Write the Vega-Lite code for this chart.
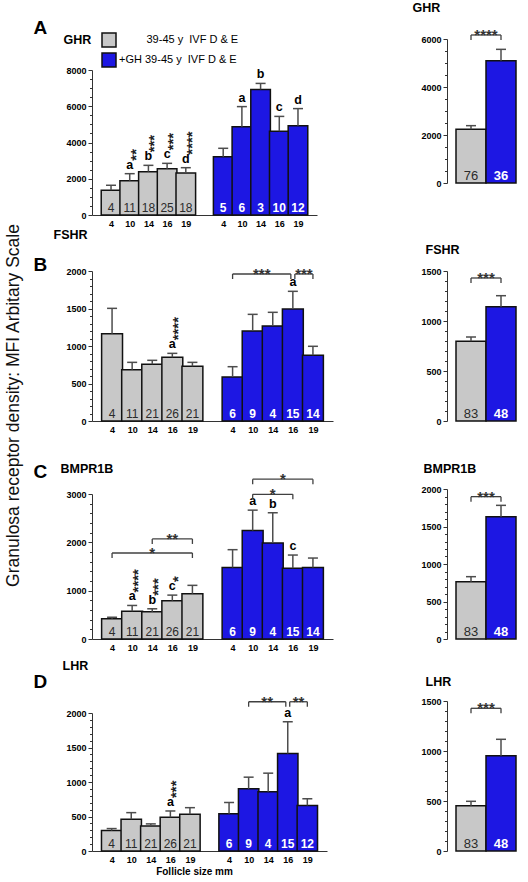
{
  "$schema": "https://vega.github.io/schema/vega-lite/v6.json",
  "padding": {"left": 4, "top": 1, "right": 0, "bottom": 0},
  "title": {"text": "Granulosa receptor density: MFI Arbitary Scale", "orient": "left", "anchor": "middle", "frame": "bounds", "fontSize": 17.5, "fontWeight": "normal", "color": "#111", "offset": 11, "dx": 33},
  "datasets": {
    "bars": [
      {"p": "A", "g": "-GH", "pos": 0, "m": 1360, "hi": 1640, "n": 4, "let": "", "st": ""},
      {"p": "A", "g": "-GH", "pos": 1, "m": 1890, "hi": 2280, "n": 11, "let": "a", "st": "**"},
      {"p": "A", "g": "-GH", "pos": 2, "m": 2390, "hi": 2740, "n": 18, "let": "b", "st": "***"},
      {"p": "A", "g": "-GH", "pos": 3, "m": 2555, "hi": 2850, "n": 25, "let": "c", "st": "***"},
      {"p": "A", "g": "-GH", "pos": 4, "m": 2320, "hi": 2610, "n": 18, "let": "d", "st": "****"},
      {"p": "A", "g": "+GH", "pos": 6, "m": 3220, "hi": 3680, "n": 5, "let": "", "st": ""},
      {"p": "A", "g": "+GH", "pos": 7, "m": 4870, "hi": 5980, "n": 6, "let": "a", "st": ""},
      {"p": "A", "g": "+GH", "pos": 8, "m": 6930, "hi": 7260, "n": 3, "let": "b", "st": ""},
      {"p": "A", "g": "+GH", "pos": 9, "m": 4620, "hi": 5440, "n": 10, "let": "c", "st": ""},
      {"p": "A", "g": "+GH", "pos": 10, "m": 4930, "hi": 5870, "n": 12, "let": "d", "st": ""},
      {"p": "B", "g": "-GH", "pos": 0, "m": 1164, "hi": 1502, "n": 4, "let": "", "st": ""},
      {"p": "B", "g": "-GH", "pos": 1, "m": 684, "hi": 782, "n": 11, "let": "", "st": ""},
      {"p": "B", "g": "-GH", "pos": 2, "m": 756, "hi": 809, "n": 21, "let": "", "st": ""},
      {"p": "B", "g": "-GH", "pos": 3, "m": 849, "hi": 902, "n": 26, "let": "a", "st": "****"},
      {"p": "B", "g": "-GH", "pos": 4, "m": 729, "hi": 782, "n": 21, "let": "", "st": ""},
      {"p": "B", "g": "+GH", "pos": 6, "m": 587, "hi": 724, "n": 6, "let": "", "st": ""},
      {"p": "B", "g": "+GH", "pos": 7, "m": 1200, "hi": 1422, "n": 9, "let": "", "st": ""},
      {"p": "B", "g": "+GH", "pos": 8, "m": 1267, "hi": 1449, "n": 4, "let": "", "st": ""},
      {"p": "B", "g": "+GH", "pos": 9, "m": 1493, "hi": 1729, "n": 15, "let": "a", "st": ""},
      {"p": "B", "g": "+GH", "pos": 10, "m": 876, "hi": 996, "n": 14, "let": "", "st": ""},
      {"p": "C", "g": "-GH", "pos": 0, "m": 417, "hi": 450, "n": 4, "let": "", "st": ""},
      {"p": "C", "g": "-GH", "pos": 1, "m": 575, "hi": 694, "n": 11, "let": "a", "st": "****"},
      {"p": "C", "g": "-GH", "pos": 2, "m": 562, "hi": 625, "n": 21, "let": "b", "st": "***"},
      {"p": "C", "g": "-GH", "pos": 3, "m": 792, "hi": 908, "n": 26, "let": "c", "st": "*"},
      {"p": "C", "g": "-GH", "pos": 4, "m": 937, "hi": 1110, "n": 21, "let": "", "st": ""},
      {"p": "C", "g": "+GH", "pos": 6, "m": 1479, "hi": 1848, "n": 6, "let": "", "st": ""},
      {"p": "C", "g": "+GH", "pos": 7, "m": 2243, "hi": 2666, "n": 9, "let": "a", "st": ""},
      {"p": "C", "g": "+GH", "pos": 8, "m": 1987, "hi": 2612, "n": 4, "let": "b", "st": ""},
      {"p": "C", "g": "+GH", "pos": 9, "m": 1466, "hi": 1737, "n": 15, "let": "c", "st": ""},
      {"p": "C", "g": "+GH", "pos": 10, "m": 1479, "hi": 1675, "n": 14, "let": "", "st": ""},
      {"p": "D", "g": "-GH", "pos": 0, "m": 296, "hi": 325, "n": 4, "let": "", "st": ""},
      {"p": "D", "g": "-GH", "pos": 1, "m": 459, "hi": 556, "n": 11, "let": "", "st": ""},
      {"p": "D", "g": "-GH", "pos": 2, "m": 364, "hi": 393, "n": 21, "let": "", "st": ""},
      {"p": "D", "g": "-GH", "pos": 3, "m": 488, "hi": 580, "n": 26, "let": "a", "st": "***"},
      {"p": "D", "g": "-GH", "pos": 4, "m": 531, "hi": 628, "n": 21, "let": "", "st": ""},
      {"p": "D", "g": "+GH", "pos": 6, "m": 539, "hi": 703, "n": 6, "let": "", "st": ""},
      {"p": "D", "g": "+GH", "pos": 7, "m": 902, "hi": 1070, "n": 9, "let": "", "st": ""},
      {"p": "D", "g": "+GH", "pos": 8, "m": 858, "hi": 1128, "n": 4, "let": "", "st": ""},
      {"p": "D", "g": "+GH", "pos": 9, "m": 1414, "hi": 1873, "n": 15, "let": "a", "st": ""},
      {"p": "D", "g": "+GH", "pos": 10, "m": 660, "hi": 757, "n": 12, "let": "", "st": ""}
    ],
    "br": [
      {"id": "B1", "p": "B", "x1": 6, "x2": 8.9, "y": 1960, "t": "***"},
      {"id": "B2", "p": "B", "x1": 9.1, "x2": 10, "y": 1960, "t": "***"},
      {"id": "C1", "p": "C", "x1": 7, "x2": 10, "y": 3306, "t": "*"},
      {"id": "C2", "p": "C", "x1": 7, "x2": 9, "y": 2993, "t": "*"},
      {"id": "C3", "p": "C", "x1": 2, "x2": 4, "y": 2070, "t": "**"},
      {"id": "C4", "p": "C", "x1": 0, "x2": 4, "y": 1779, "t": "*"},
      {"id": "D1", "p": "D", "x1": 7, "x2": 8.9, "y": 2163, "t": "**"},
      {"id": "D2", "p": "D", "x1": 9.1, "x2": 10, "y": 2163, "t": "**"}
    ],
    "tr": [
      {"p": "A", "t": "-GH", "m": 2236, "hi": 2389, "n": 76},
      {"p": "A", "t": "+GH", "m": 5097, "hi": 5569, "n": 36},
      {"p": "B", "t": "-GH", "m": 797, "hi": 840, "n": 83},
      {"p": "B", "t": "+GH", "m": 1143, "hi": 1253, "n": 48},
      {"p": "C", "t": "-GH", "m": 764, "hi": 831, "n": 83},
      {"p": "C", "t": "+GH", "m": 1631, "hi": 1782, "n": 48},
      {"p": "D", "t": "-GH", "m": 453, "hi": 497, "n": 83},
      {"p": "D", "t": "+GH", "m": 953, "hi": 1117, "n": 48}
    ],
    "trb": [
      {"p": "A", "a": "-GH", "b": "+GH", "y": 6167, "s": "****"},
      {"p": "B", "a": "-GH", "b": "+GH", "y": 1430, "s": "***"},
      {"p": "C", "a": "-GH", "b": "+GH", "y": 1898, "s": "***"},
      {"p": "D", "a": "-GH", "b": "+GH", "y": 1427, "s": "***"}
    ]
  },
  "columns": 2,
  "spacing": {"row": 56, "column": 114},
  "bounds": "flush",
  "align": "each",
  "resolve": {"scale": {"fill": "independent"}, "legend": {"fill": "independent"}},
  "concat": [
    {
      "width": 225, "height": 176,
      "data": {"name": "bars"},
      "transform": [{"filter": "datum.p === 'A'"}],
      "resolve": {"axis": {"x": "independent", "y": "independent"}},
      "layer": [
        {"mark": {"type": "bar", "size": 19.6, "stroke": "#111", "strokeWidth": 1.5},
         "encoding": {
           "x": {"field": "pos", "type": "quantitative", "scale": {"domain": [-0.75, 10.75], "nice": false, "zero": false},
                 "axis": {"values": [0, 1, 2, 3, 4, 6, 7, 8, 9, 10], "labelExpr": "['4','10','14','16','19','','4','10','14','16','19'][datum.value]", "ticks": false, "labelPadding": 4, "labelFlush": false, "title": null}},
           "y": {"field": "m", "type": "quantitative", "scale": {"domain": [0, 8000], "range": [176, 31], "nice": false},
                 "axis": {"orient": "left", "values": [0, 2000, 4000, 6000, 8000], "format": "d", "tickSize": 4, "labelPadding": 2,
                          "title": "A", "titleX": -59, "titleY": -6, "titleAngle": 0, "titleAlign": "left", "titleBaseline": "alphabetic", "titleFontSize": 19, "titleFontWeight": "bold"}},
           "fill": {"field": "g", "type": "nominal", "scale": {"domain": ["-GH", "+GH"], "range": ["#c8c8c8", "#1d17e3"]},
                    "legend": {"orient": "none", "legendX": 9, "legendY": -7, "title": null, "symbolType": "square", "symbolSize": 196, "symbolStrokeColor": "#111", "symbolStrokeWidth": 1.5, "labelFontSize": 11, "labelFontWeight": "normal", "labelColor": "#000", "labelOffset": 2, "rowPadding": 0, "padding": 0, "labelLimit": 250,
                               "labelExpr": "datum.value === '+GH' ? '+GH 39-45 y\u00a0\u00a0IVF D & E' : '\u200b\u00a0\u00a0\u00a0\u00a0\u00a0\u00a0\u00a0\u00a0\u00a039-45 y\u00a0\u00a0IVF D & E'"}}
         }},
        {"mark": {"type": "rule", "color": "#4d4d4d", "strokeWidth": 1.5},
         "encoding": {
           "x": {"field": "pos", "type": "quantitative", "axis": {"orient": "top", "domain": false, "ticks": false, "labels": false, "title": "GHR", "titleX": -29, "titleY": 4, "titleAngle": 0, "titleAlign": "left", "titleBaseline": "alphabetic", "titleFontSize": 12.5, "titleFontWeight": "bold"}},
           "y": {"field": "m", "type": "quantitative", "axis": {"orient": "left", "values": [500, 1000, 1500, 2500, 3000, 3500, 4500, 5000, 5500, 6500, 7000, 7500], "labels": false, "domain": false, "tickSize": 2.5, "title": null}},
           "y2": {"field": "hi"}
         }},
        {"mark": {"type": "rule", "color": "#4d4d4d", "strokeWidth": 1.5, "xOffset": -5, "x2Offset": 5},
         "encoding": {"x": {"field": "pos", "type": "quantitative", "axis": null}, "x2": {"field": "pos"}, "y": {"field": "hi", "type": "quantitative", "axis": null}}},
        {"transform": [{"filter": "datum.g === '-GH'"}],
         "mark": {"type": "text", "dy": -3, "baseline": "alphabetic", "fontSize": 12, "color": "#2b2b2b"},
         "encoding": {"x": {"field": "pos", "type": "quantitative", "axis": null}, "y": {"datum": 0, "type": "quantitative", "axis": null}, "text": {"field": "n", "type": "nominal"}}},
        {"transform": [{"filter": "datum.g === '+GH'"}],
         "mark": {"type": "text", "dy": -3, "baseline": "alphabetic", "fontSize": 12, "fontWeight": "bold", "color": "#ffffff"},
         "encoding": {"x": {"field": "pos", "type": "quantitative", "axis": null}, "y": {"datum": 0, "type": "quantitative", "axis": null}, "text": {"field": "n", "type": "nominal"}}},
        {"transform": [{"filter": "datum.let"}],
         "mark": {"type": "text", "dy": -5, "baseline": "alphabetic", "fontSize": 12.5, "fontWeight": "bold", "color": "#000"},
         "encoding": {"x": {"field": "pos", "type": "quantitative", "axis": null}, "y": {"field": "hi", "type": "quantitative", "axis": null}, "text": {"field": "let"}}},
        {"transform": [{"filter": "datum.st"}],
         "mark": {"type": "text", "angle": 270, "align": "left", "baseline": "middle", "dx": 13, "dy": 6, "fontSize": 15, "fontWeight": "bold", "color": "#222"},
         "encoding": {"x": {"field": "pos", "type": "quantitative", "axis": null}, "y": {"field": "hi", "type": "quantitative", "axis": null}, "text": {"field": "st"}}}
      ]
    },
    {
      "width": 78, "height": 144,
      "data": {"name": "tr"},
      "transform": [{"filter": "datum.p === 'A'"}],
      "resolve": {"axis": {"y": "independent"}},
      "layer": [
        {"mark": {"type": "bar", "stroke": "#111", "strokeWidth": 1.5},
         "encoding": {
           "x": {"field": "t", "type": "nominal", "sort": null, "scale": {"domain": ["-GH", "+GH"], "paddingInner": 0, "paddingOuter": 0.3},
                 "axis": {"labelAngle": 0, "ticks": false, "labelPadding": 4, "title": "Treatment", "titleFontSize": 11, "titleFontWeight": "bold", "titlePadding": 6}},
           "y": {"field": "m", "type": "quantitative", "scale": {"domain": [0, 6000], "range": [144, 0], "nice": false},
                 "axis": {"orient": "left", "values": [0, 2000, 4000, 6000], "format": "d", "tickSize": 4, "labelPadding": 2,
                          "title": "GHR", "titleX": -35, "titleY": -28, "titleAngle": 0, "titleAlign": "left", "titleBaseline": "alphabetic", "titleFontSize": 12.5, "titleFontWeight": "bold"}},
           "fill": {"field": "t", "type": "nominal", "scale": {"domain": ["-GH", "+GH"], "range": ["#c8c8c8", "#1d17e3"]}, "legend": null}
         }},
        {"mark": {"type": "rule", "color": "#4d4d4d", "strokeWidth": 1.5},
         "encoding": {"x": {"field": "t", "type": "nominal", "axis": null},
                      "y": {"field": "m", "type": "quantitative", "axis": {"orient": "left", "values": [500, 1000, 1500, 2500, 3000, 3500, 4500, 5000, 5500], "labels": false, "domain": false, "tickSize": 2.5, "title": null}},
                      "y2": {"field": "hi"}}},
        {"mark": {"type": "rule", "color": "#4d4d4d", "strokeWidth": 1.5, "xOffset": -5, "x2Offset": 5},
         "encoding": {"x": {"field": "t", "type": "nominal", "axis": null}, "x2": {"field": "t"}, "y": {"field": "hi", "type": "quantitative", "axis": null}}},
        {"transform": [{"filter": "datum.t === '-GH'"}],
         "mark": {"type": "text", "dy": -3, "baseline": "alphabetic", "fontSize": 13, "color": "#2b2b2b"},
         "encoding": {"x": {"field": "t", "type": "nominal", "axis": null}, "y": {"datum": 0, "type": "quantitative", "axis": null}, "text": {"field": "n", "type": "nominal"}}},
        {"transform": [{"filter": "datum.t === '+GH'"}],
         "mark": {"type": "text", "dy": -3, "baseline": "alphabetic", "fontSize": 13, "fontWeight": "bold", "color": "#ffffff"},
         "encoding": {"x": {"field": "t", "type": "nominal", "axis": null}, "y": {"datum": 0, "type": "quantitative", "axis": null}, "text": {"field": "n", "type": "nominal"}}},
        {"data": {"name": "trb"}, "transform": [{"filter": "datum.p === 'A'"}],
         "mark": {"type": "rule", "color": "#404040", "strokeWidth": 1.3},
         "encoding": {"x": {"field": "a", "type": "nominal", "axis": null}, "x2": {"field": "b"}, "y": {"field": "y", "type": "quantitative", "axis": null}}},
        {"data": {"name": "trb"}, "transform": [{"filter": "datum.p === 'A'"}, {"fold": ["a", "b"], "as": ["end", "xv"]}],
         "mark": {"type": "rule", "color": "#404040", "strokeWidth": 1.3, "y2Offset": 5},
         "encoding": {"x": {"field": "xv", "type": "nominal", "axis": null}, "y": {"field": "y", "type": "quantitative", "axis": null}, "y2": {"field": "y"}}},
        {"data": {"name": "trb"}, "transform": [{"filter": "datum.p === 'A'"}],
         "mark": {"type": "text", "dy": 5, "baseline": "alphabetic", "fontSize": 15, "fontWeight": "bold", "color": "#333"},
         "encoding": {"x": {"field": "a", "type": "nominal", "bandPosition": 1, "axis": null}, "y": {"field": "y", "type": "quantitative", "axis": null}, "text": {"field": "s"}}}
      ]
    },
    {
      "width": 241, "height": 150,
      "data": {"name": "bars"},
      "transform": [{"filter": "datum.p === 'B'"}],
      "resolve": {"axis": {"x": "independent", "y": "independent"}},
      "layer": [
        {"mark": {"type": "bar", "size": 20.9, "stroke": "#111", "strokeWidth": 1.5},
         "encoding": {
           "x": {"field": "pos", "type": "quantitative", "scale": {"domain": [-0.75, 10.75], "nice": false, "zero": false},
                 "axis": {"values": [0, 1, 2, 3, 4, 6, 7, 8, 9, 10], "labelExpr": "['4','10','14','16','19','','4','10','14','16','19'][datum.value]", "ticks": false, "labelPadding": 4, "labelFlush": false, "title": null}},
           "y": {"field": "m", "type": "quantitative", "scale": {"domain": [0, 2000], "range": [150, 0], "nice": false},
                 "axis": {"orient": "left", "values": [0, 500, 1000, 1500, 2000], "format": "d", "tickSize": 4, "labelPadding": 2,
                          "title": "B", "titleX": -59, "titleY": -1, "titleAngle": 0, "titleAlign": "left", "titleBaseline": "alphabetic", "titleFontSize": 19, "titleFontWeight": "bold"}},
           "fill": {"field": "g", "type": "nominal", "scale": {"domain": ["-GH", "+GH"], "range": ["#c8c8c8", "#1d17e3"]}, "legend": null}
         }},
        {"mark": {"type": "rule", "color": "#4d4d4d", "strokeWidth": 1.5},
         "encoding": {
           "x": {"field": "pos", "type": "quantitative", "axis": {"orient": "top", "domain": false, "ticks": false, "labels": false, "title": "FSHR", "titleX": -39, "titleY": -33, "titleAngle": 0, "titleAlign": "left", "titleBaseline": "alphabetic", "titleFontSize": 12.5, "titleFontWeight": "bold"}},
           "y": {"field": "m", "type": "quantitative", "axis": {"orient": "left", "values": [100, 200, 300, 400, 600, 700, 800, 900, 1100, 1200, 1300, 1400, 1600, 1700, 1800, 1900], "labels": false, "domain": false, "tickSize": 2.5, "title": null}},
           "y2": {"field": "hi"}
         }},
        {"mark": {"type": "rule", "color": "#4d4d4d", "strokeWidth": 1.5, "xOffset": -5, "x2Offset": 5},
         "encoding": {"x": {"field": "pos", "type": "quantitative", "axis": null}, "x2": {"field": "pos"}, "y": {"field": "hi", "type": "quantitative", "axis": null}}},
        {"transform": [{"filter": "datum.g === '-GH'"}],
         "mark": {"type": "text", "dy": -3, "baseline": "alphabetic", "fontSize": 12, "color": "#2b2b2b"},
         "encoding": {"x": {"field": "pos", "type": "quantitative", "axis": null}, "y": {"datum": 0, "type": "quantitative", "axis": null}, "text": {"field": "n", "type": "nominal"}}},
        {"transform": [{"filter": "datum.g === '+GH'"}],
         "mark": {"type": "text", "dy": -3, "baseline": "alphabetic", "fontSize": 12, "fontWeight": "bold", "color": "#ffffff"},
         "encoding": {"x": {"field": "pos", "type": "quantitative", "axis": null}, "y": {"datum": 0, "type": "quantitative", "axis": null}, "text": {"field": "n", "type": "nominal"}}},
        {"transform": [{"filter": "datum.let"}],
         "mark": {"type": "text", "dy": -5, "baseline": "alphabetic", "fontSize": 12.5, "fontWeight": "bold", "color": "#000"},
         "encoding": {"x": {"field": "pos", "type": "quantitative", "axis": null}, "y": {"field": "hi", "type": "quantitative", "axis": null}, "text": {"field": "let"}}},
        {"transform": [{"filter": "datum.st"}],
         "mark": {"type": "text", "angle": 270, "align": "left", "baseline": "middle", "dx": 13, "dy": 6, "fontSize": 15, "fontWeight": "bold", "color": "#222"},
         "encoding": {"x": {"field": "pos", "type": "quantitative", "axis": null}, "y": {"field": "hi", "type": "quantitative", "axis": null}, "text": {"field": "st"}}},
        {"data": {"name": "br"}, "transform": [{"filter": "datum.p === 'B'"}],
         "mark": {"type": "rule", "color": "#404040", "strokeWidth": 1.3},
         "encoding": {"x": {"field": "x1", "type": "quantitative", "axis": null}, "x2": {"field": "x2"}, "y": {"field": "y", "type": "quantitative", "axis": null}}},
        {"data": {"name": "br"}, "transform": [{"filter": "datum.p === 'B'"}, {"fold": ["x1", "x2"], "as": ["end", "xv"]}],
         "mark": {"type": "rule", "color": "#404040", "strokeWidth": 1.3, "y2Offset": 5},
         "encoding": {"x": {"field": "xv", "type": "quantitative", "axis": null}, "y": {"field": "y", "type": "quantitative", "axis": null}, "y2": {"field": "y"}}},
        {"data": {"name": "br"}, "transform": [{"filter": "datum.p === 'B'"}, {"fold": ["x1", "x2"], "as": ["end", "xv"]}, {"aggregate": [{"op": "mean", "field": "xv", "as": "xm"}], "groupby": ["id", "y", "t"]}],
         "mark": {"type": "text", "dy": 5, "baseline": "alphabetic", "fontSize": 15, "fontWeight": "bold", "color": "#333"},
         "encoding": {"x": {"field": "xm", "type": "quantitative", "axis": null}, "y": {"field": "y", "type": "quantitative", "axis": null}, "text": {"field": "t"}}}
      ]
    },
    {
      "width": 78, "height": 150,
      "data": {"name": "tr"},
      "transform": [{"filter": "datum.p === 'B'"}],
      "resolve": {"axis": {"y": "independent"}},
      "layer": [
        {"mark": {"type": "bar", "stroke": "#111", "strokeWidth": 1.5},
         "encoding": {
           "x": {"field": "t", "type": "nominal", "sort": null, "scale": {"domain": ["-GH", "+GH"], "paddingInner": 0, "paddingOuter": 0.3},
                 "axis": {"labelAngle": 0, "ticks": false, "labelPadding": 4, "title": "Treatment", "titleFontSize": 11, "titleFontWeight": "bold", "titlePadding": 6}},
           "y": {"field": "m", "type": "quantitative", "scale": {"domain": [0, 1500], "range": [150, 0], "nice": false},
                 "axis": {"orient": "left", "values": [0, 500, 1000, 1500], "format": "d", "tickSize": 4, "labelPadding": 2,
                          "title": "FSHR", "titleX": -22, "titleY": -18, "titleAngle": 0, "titleAlign": "left", "titleBaseline": "alphabetic", "titleFontSize": 12.5, "titleFontWeight": "bold"}},
           "fill": {"field": "t", "type": "nominal", "scale": {"domain": ["-GH", "+GH"], "range": ["#c8c8c8", "#1d17e3"]}, "legend": null}
         }},
        {"mark": {"type": "rule", "color": "#4d4d4d", "strokeWidth": 1.5},
         "encoding": {"x": {"field": "t", "type": "nominal", "axis": null},
                      "y": {"field": "m", "type": "quantitative", "axis": {"orient": "left", "values": [100, 200, 300, 400, 600, 700, 800, 900, 1100, 1200, 1300, 1400], "labels": false, "domain": false, "tickSize": 2.5, "title": null}},
                      "y2": {"field": "hi"}}},
        {"mark": {"type": "rule", "color": "#4d4d4d", "strokeWidth": 1.5, "xOffset": -5, "x2Offset": 5},
         "encoding": {"x": {"field": "t", "type": "nominal", "axis": null}, "x2": {"field": "t"}, "y": {"field": "hi", "type": "quantitative", "axis": null}}},
        {"transform": [{"filter": "datum.t === '-GH'"}],
         "mark": {"type": "text", "dy": -3, "baseline": "alphabetic", "fontSize": 13, "color": "#2b2b2b"},
         "encoding": {"x": {"field": "t", "type": "nominal", "axis": null}, "y": {"datum": 0, "type": "quantitative", "axis": null}, "text": {"field": "n", "type": "nominal"}}},
        {"transform": [{"filter": "datum.t === '+GH'"}],
         "mark": {"type": "text", "dy": -3, "baseline": "alphabetic", "fontSize": 13, "fontWeight": "bold", "color": "#ffffff"},
         "encoding": {"x": {"field": "t", "type": "nominal", "axis": null}, "y": {"datum": 0, "type": "quantitative", "axis": null}, "text": {"field": "n", "type": "nominal"}}},
        {"data": {"name": "trb"}, "transform": [{"filter": "datum.p === 'B'"}],
         "mark": {"type": "rule", "color": "#404040", "strokeWidth": 1.3},
         "encoding": {"x": {"field": "a", "type": "nominal", "axis": null}, "x2": {"field": "b"}, "y": {"field": "y", "type": "quantitative", "axis": null}}},
        {"data": {"name": "trb"}, "transform": [{"filter": "datum.p === 'B'"}, {"fold": ["a", "b"], "as": ["end", "xv"]}],
         "mark": {"type": "rule", "color": "#404040", "strokeWidth": 1.3, "y2Offset": 5},
         "encoding": {"x": {"field": "xv", "type": "nominal", "axis": null}, "y": {"field": "y", "type": "quantitative", "axis": null}, "y2": {"field": "y"}}},
        {"data": {"name": "trb"}, "transform": [{"filter": "datum.p === 'B'"}],
         "mark": {"type": "text", "dy": 5, "baseline": "alphabetic", "fontSize": 15, "fontWeight": "bold", "color": "#333"},
         "encoding": {"x": {"field": "a", "type": "nominal", "bandPosition": 1, "axis": null}, "y": {"field": "y", "type": "quantitative", "axis": null}, "text": {"field": "s"}}}
      ]
    },
    {
      "width": 241, "height": 162,
      "data": {"name": "bars"},
      "transform": [{"filter": "datum.p === 'C'"}],
      "resolve": {"axis": {"x": "independent", "y": "independent"}},
      "layer": [
        {"mark": {"type": "bar", "size": 20.9, "stroke": "#111", "strokeWidth": 1.5},
         "encoding": {
           "x": {"field": "pos", "type": "quantitative", "scale": {"domain": [-0.75, 10.75], "nice": false, "zero": false},
                 "axis": {"values": [0, 1, 2, 3, 4, 6, 7, 8, 9, 10], "labelExpr": "['4','10','14','16','19','','4','10','14','16','19'][datum.value]", "ticks": false, "labelPadding": 4, "labelFlush": false, "title": null}},
           "y": {"field": "m", "type": "quantitative", "scale": {"domain": [0, 3000], "range": [162, 17], "nice": false},
                 "axis": {"orient": "left", "values": [0, 1000, 2000, 3000], "format": "d", "tickSize": 4, "labelPadding": 2,
                          "title": "C", "titleX": -59, "titleY": 0, "titleAngle": 0, "titleAlign": "left", "titleBaseline": "alphabetic", "titleFontSize": 19, "titleFontWeight": "bold"}},
           "fill": {"field": "g", "type": "nominal", "scale": {"domain": ["-GH", "+GH"], "range": ["#c8c8c8", "#1d17e3"]}, "legend": null}
         }},
        {"mark": {"type": "rule", "color": "#4d4d4d", "strokeWidth": 1.5},
         "encoding": {
           "x": {"field": "pos", "type": "quantitative", "axis": {"orient": "top", "domain": false, "ticks": false, "labels": false, "title": "BMPR1B", "titleX": -32, "titleY": -5, "titleAngle": 0, "titleAlign": "left", "titleBaseline": "alphabetic", "titleFontSize": 12.5, "titleFontWeight": "bold"}},
           "y": {"field": "m", "type": "quantitative", "axis": {"orient": "left", "values": [200, 400, 600, 800, 1200, 1400, 1600, 1800, 2200, 2400, 2600, 2800], "labels": false, "domain": false, "tickSize": 2.5, "title": null}},
           "y2": {"field": "hi"}
         }},
        {"mark": {"type": "rule", "color": "#4d4d4d", "strokeWidth": 1.5, "xOffset": -5, "x2Offset": 5},
         "encoding": {"x": {"field": "pos", "type": "quantitative", "axis": null}, "x2": {"field": "pos"}, "y": {"field": "hi", "type": "quantitative", "axis": null}}},
        {"transform": [{"filter": "datum.g === '-GH'"}],
         "mark": {"type": "text", "dy": -3, "baseline": "alphabetic", "fontSize": 12, "color": "#2b2b2b"},
         "encoding": {"x": {"field": "pos", "type": "quantitative", "axis": null}, "y": {"datum": 0, "type": "quantitative", "axis": null}, "text": {"field": "n", "type": "nominal"}}},
        {"transform": [{"filter": "datum.g === '+GH'"}],
         "mark": {"type": "text", "dy": -3, "baseline": "alphabetic", "fontSize": 12, "fontWeight": "bold", "color": "#ffffff"},
         "encoding": {"x": {"field": "pos", "type": "quantitative", "axis": null}, "y": {"datum": 0, "type": "quantitative", "axis": null}, "text": {"field": "n", "type": "nominal"}}},
        {"transform": [{"filter": "datum.let"}],
         "mark": {"type": "text", "dy": -5, "baseline": "alphabetic", "fontSize": 12.5, "fontWeight": "bold", "color": "#000"},
         "encoding": {"x": {"field": "pos", "type": "quantitative", "axis": null}, "y": {"field": "hi", "type": "quantitative", "axis": null}, "text": {"field": "let"}}},
        {"transform": [{"filter": "datum.st"}],
         "mark": {"type": "text", "angle": 270, "align": "left", "baseline": "middle", "dx": 13, "dy": 6, "fontSize": 15, "fontWeight": "bold", "color": "#222"},
         "encoding": {"x": {"field": "pos", "type": "quantitative", "axis": null}, "y": {"field": "hi", "type": "quantitative", "axis": null}, "text": {"field": "st"}}},
        {"data": {"name": "br"}, "transform": [{"filter": "datum.p === 'C'"}],
         "mark": {"type": "rule", "color": "#404040", "strokeWidth": 1.3},
         "encoding": {"x": {"field": "x1", "type": "quantitative", "axis": null}, "x2": {"field": "x2"}, "y": {"field": "y", "type": "quantitative", "axis": null}}},
        {"data": {"name": "br"}, "transform": [{"filter": "datum.p === 'C'"}, {"fold": ["x1", "x2"], "as": ["end", "xv"]}],
         "mark": {"type": "rule", "color": "#404040", "strokeWidth": 1.3, "y2Offset": 5},
         "encoding": {"x": {"field": "xv", "type": "quantitative", "axis": null}, "y": {"field": "y", "type": "quantitative", "axis": null}, "y2": {"field": "y"}}},
        {"data": {"name": "br"}, "transform": [{"filter": "datum.p === 'C'"}, {"fold": ["x1", "x2"], "as": ["end", "xv"]}, {"aggregate": [{"op": "mean", "field": "xv", "as": "xm"}], "groupby": ["id", "y", "t"]}],
         "mark": {"type": "text", "dy": 5, "baseline": "alphabetic", "fontSize": 15, "fontWeight": "bold", "color": "#333"},
         "encoding": {"x": {"field": "xm", "type": "quantitative", "axis": null}, "y": {"field": "y", "type": "quantitative", "axis": null}, "text": {"field": "t"}}}
      ]
    },
    {
      "width": 78, "height": 162,
      "data": {"name": "tr"},
      "transform": [{"filter": "datum.p === 'C'"}],
      "resolve": {"axis": {"y": "independent"}},
      "layer": [
        {"mark": {"type": "bar", "stroke": "#111", "strokeWidth": 1.5},
         "encoding": {
           "x": {"field": "t", "type": "nominal", "sort": null, "scale": {"domain": ["-GH", "+GH"], "paddingInner": 0, "paddingOuter": 0.3},
                 "axis": {"labelAngle": 0, "ticks": false, "labelPadding": 4, "title": "Treatment", "titleFontSize": 11, "titleFontWeight": "bold", "titlePadding": 6}},
           "y": {"field": "m", "type": "quantitative", "scale": {"domain": [0, 2000], "range": [162, 12], "nice": false},
                 "axis": {"orient": "left", "values": [0, 500, 1000, 1500, 2000], "format": "d", "tickSize": 4, "labelPadding": 2,
                          "title": "BMPR1B", "titleX": -24, "titleY": -5, "titleAngle": 0, "titleAlign": "left", "titleBaseline": "alphabetic", "titleFontSize": 12.5, "titleFontWeight": "bold"}},
           "fill": {"field": "t", "type": "nominal", "scale": {"domain": ["-GH", "+GH"], "range": ["#c8c8c8", "#1d17e3"]}, "legend": null}
         }},
        {"mark": {"type": "rule", "color": "#4d4d4d", "strokeWidth": 1.5},
         "encoding": {"x": {"field": "t", "type": "nominal", "axis": null},
                      "y": {"field": "m", "type": "quantitative", "axis": {"orient": "left", "values": [100, 200, 300, 400, 600, 700, 800, 900, 1100, 1200, 1300, 1400, 1600, 1700, 1800, 1900], "labels": false, "domain": false, "tickSize": 2.5, "title": null}},
                      "y2": {"field": "hi"}}},
        {"mark": {"type": "rule", "color": "#4d4d4d", "strokeWidth": 1.5, "xOffset": -5, "x2Offset": 5},
         "encoding": {"x": {"field": "t", "type": "nominal", "axis": null}, "x2": {"field": "t"}, "y": {"field": "hi", "type": "quantitative", "axis": null}}},
        {"transform": [{"filter": "datum.t === '-GH'"}],
         "mark": {"type": "text", "dy": -3, "baseline": "alphabetic", "fontSize": 13, "color": "#2b2b2b"},
         "encoding": {"x": {"field": "t", "type": "nominal", "axis": null}, "y": {"datum": 0, "type": "quantitative", "axis": null}, "text": {"field": "n", "type": "nominal"}}},
        {"transform": [{"filter": "datum.t === '+GH'"}],
         "mark": {"type": "text", "dy": -3, "baseline": "alphabetic", "fontSize": 13, "fontWeight": "bold", "color": "#ffffff"},
         "encoding": {"x": {"field": "t", "type": "nominal", "axis": null}, "y": {"datum": 0, "type": "quantitative", "axis": null}, "text": {"field": "n", "type": "nominal"}}},
        {"data": {"name": "trb"}, "transform": [{"filter": "datum.p === 'C'"}],
         "mark": {"type": "rule", "color": "#404040", "strokeWidth": 1.3},
         "encoding": {"x": {"field": "a", "type": "nominal", "axis": null}, "x2": {"field": "b"}, "y": {"field": "y", "type": "quantitative", "axis": null}}},
        {"data": {"name": "trb"}, "transform": [{"filter": "datum.p === 'C'"}, {"fold": ["a", "b"], "as": ["end", "xv"]}],
         "mark": {"type": "rule", "color": "#404040", "strokeWidth": 1.3, "y2Offset": 5},
         "encoding": {"x": {"field": "xv", "type": "nominal", "axis": null}, "y": {"field": "y", "type": "quantitative", "axis": null}, "y2": {"field": "y"}}},
        {"data": {"name": "trb"}, "transform": [{"filter": "datum.p === 'C'"}],
         "mark": {"type": "text", "dy": 5, "baseline": "alphabetic", "fontSize": 15, "fontWeight": "bold", "color": "#333"},
         "encoding": {"x": {"field": "a", "type": "nominal", "bandPosition": 1, "axis": null}, "y": {"field": "y", "type": "quantitative", "axis": null}, "text": {"field": "s"}}}
      ]
    },
    {
      "width": 235, "height": 156,
      "data": {"name": "bars"},
      "transform": [{"filter": "datum.p === 'D'"}],
      "resolve": {"axis": {"x": "independent", "y": "independent"}},
      "layer": [
        {"mark": {"type": "bar", "size": 20.4, "stroke": "#111", "strokeWidth": 1.5},
         "encoding": {
           "x": {"field": "pos", "type": "quantitative", "scale": {"domain": [-0.75, 10.75], "nice": false, "zero": false},
                 "axis": {"values": [0, 1, 2, 3, 4, 6, 7, 8, 9, 10], "labelExpr": "['4','10','14','16','19','','4','10','14','16','19'][datum.value]", "ticks": false, "labelPadding": 4, "labelFlush": false,
                          "title": "Follicle size mm", "titleX": 102, "titleY": 23, "titleAlign": "center", "titleBaseline": "alphabetic", "titleFontSize": 10, "titleFontWeight": "bold"}},
           "y": {"field": "m", "type": "quantitative", "scale": {"domain": [0, 2000], "range": [156, 18], "nice": false},
                 "axis": {"orient": "left", "values": [0, 500, 1000, 1500, 2000], "format": "d", "tickSize": 4, "labelPadding": 2,
                          "title": "D", "titleX": -59, "titleY": -8, "titleAngle": 0, "titleAlign": "left", "titleBaseline": "alphabetic", "titleFontSize": 19, "titleFontWeight": "bold"}},
           "fill": {"field": "g", "type": "nominal", "scale": {"domain": ["-GH", "+GH"], "range": ["#c8c8c8", "#1d17e3"]}, "legend": null}
         }},
        {"mark": {"type": "rule", "color": "#4d4d4d", "strokeWidth": 1.5},
         "encoding": {
           "x": {"field": "pos", "type": "quantitative", "axis": {"orient": "top", "domain": false, "ticks": false, "labels": false, "title": "LHR", "titleX": -30, "titleY": -26, "titleAngle": 0, "titleAlign": "left", "titleBaseline": "alphabetic", "titleFontSize": 12.5, "titleFontWeight": "bold"}},
           "y": {"field": "m", "type": "quantitative", "axis": {"orient": "left", "values": [100, 200, 300, 400, 600, 700, 800, 900, 1100, 1200, 1300, 1400, 1600, 1700, 1800, 1900], "labels": false, "domain": false, "tickSize": 2.5, "title": null}},
           "y2": {"field": "hi"}
         }},
        {"mark": {"type": "rule", "color": "#4d4d4d", "strokeWidth": 1.5, "xOffset": -5, "x2Offset": 5},
         "encoding": {"x": {"field": "pos", "type": "quantitative", "axis": null}, "x2": {"field": "pos"}, "y": {"field": "hi", "type": "quantitative", "axis": null}}},
        {"transform": [{"filter": "datum.g === '-GH'"}],
         "mark": {"type": "text", "dy": -3, "baseline": "alphabetic", "fontSize": 12, "color": "#2b2b2b"},
         "encoding": {"x": {"field": "pos", "type": "quantitative", "axis": null}, "y": {"datum": 0, "type": "quantitative", "axis": null}, "text": {"field": "n", "type": "nominal"}}},
        {"transform": [{"filter": "datum.g === '+GH'"}],
         "mark": {"type": "text", "dy": -3, "baseline": "alphabetic", "fontSize": 12, "fontWeight": "bold", "color": "#ffffff"},
         "encoding": {"x": {"field": "pos", "type": "quantitative", "axis": null}, "y": {"datum": 0, "type": "quantitative", "axis": null}, "text": {"field": "n", "type": "nominal"}}},
        {"transform": [{"filter": "datum.let"}],
         "mark": {"type": "text", "dy": -5, "baseline": "alphabetic", "fontSize": 12.5, "fontWeight": "bold", "color": "#000"},
         "encoding": {"x": {"field": "pos", "type": "quantitative", "axis": null}, "y": {"field": "hi", "type": "quantitative", "axis": null}, "text": {"field": "let"}}},
        {"transform": [{"filter": "datum.st"}],
         "mark": {"type": "text", "angle": 270, "align": "left", "baseline": "middle", "dx": 13, "dy": 6, "fontSize": 15, "fontWeight": "bold", "color": "#222"},
         "encoding": {"x": {"field": "pos", "type": "quantitative", "axis": null}, "y": {"field": "hi", "type": "quantitative", "axis": null}, "text": {"field": "st"}}},
        {"data": {"name": "br"}, "transform": [{"filter": "datum.p === 'D'"}],
         "mark": {"type": "rule", "color": "#404040", "strokeWidth": 1.3},
         "encoding": {"x": {"field": "x1", "type": "quantitative", "axis": null}, "x2": {"field": "x2"}, "y": {"field": "y", "type": "quantitative", "axis": null}}},
        {"data": {"name": "br"}, "transform": [{"filter": "datum.p === 'D'"}, {"fold": ["x1", "x2"], "as": ["end", "xv"]}],
         "mark": {"type": "rule", "color": "#404040", "strokeWidth": 1.3, "y2Offset": 5},
         "encoding": {"x": {"field": "xv", "type": "quantitative", "axis": null}, "y": {"field": "y", "type": "quantitative", "axis": null}, "y2": {"field": "y"}}},
        {"data": {"name": "br"}, "transform": [{"filter": "datum.p === 'D'"}, {"fold": ["x1", "x2"], "as": ["end", "xv"]}, {"aggregate": [{"op": "mean", "field": "xv", "as": "xm"}], "groupby": ["id", "y", "t"]}],
         "mark": {"type": "text", "dy": 5, "baseline": "alphabetic", "fontSize": 15, "fontWeight": "bold", "color": "#333"},
         "encoding": {"x": {"field": "xm", "type": "quantitative", "axis": null}, "y": {"field": "y", "type": "quantitative", "axis": null}, "text": {"field": "t"}}}
      ]
    },
    {
      "width": 78, "height": 156,
      "data": {"name": "tr"},
      "transform": [{"filter": "datum.p === 'D'"}],
      "resolve": {"axis": {"y": "independent"}},
      "layer": [
        {"mark": {"type": "bar", "stroke": "#111", "strokeWidth": 1.5},
         "encoding": {
           "x": {"field": "t", "type": "nominal", "sort": null, "scale": {"domain": ["-GH", "+GH"], "paddingInner": 0, "paddingOuter": 0.3},
                 "axis": {"labelAngle": 0, "ticks": false, "labelPadding": 4, "title": "Treatment", "titleFontSize": 11, "titleFontWeight": "bold", "titlePadding": 6}},
           "y": {"field": "m", "type": "quantitative", "scale": {"domain": [0, 1500], "range": [156, 6], "nice": false},
                 "axis": {"orient": "left", "values": [0, 500, 1000, 1500], "format": "d", "tickSize": 4, "labelPadding": 2,
                          "title": "LHR", "titleX": -22, "titleY": -10, "titleAngle": 0, "titleAlign": "left", "titleBaseline": "alphabetic", "titleFontSize": 12.5, "titleFontWeight": "bold"}},
           "fill": {"field": "t", "type": "nominal", "scale": {"domain": ["-GH", "+GH"], "range": ["#c8c8c8", "#1d17e3"]}, "legend": null}
         }},
        {"mark": {"type": "rule", "color": "#4d4d4d", "strokeWidth": 1.5},
         "encoding": {"x": {"field": "t", "type": "nominal", "axis": null},
                      "y": {"field": "m", "type": "quantitative", "axis": {"orient": "left", "values": [100, 200, 300, 400, 600, 700, 800, 900, 1100, 1200, 1300, 1400], "labels": false, "domain": false, "tickSize": 2.5, "title": null}},
                      "y2": {"field": "hi"}}},
        {"mark": {"type": "rule", "color": "#4d4d4d", "strokeWidth": 1.5, "xOffset": -5, "x2Offset": 5},
         "encoding": {"x": {"field": "t", "type": "nominal", "axis": null}, "x2": {"field": "t"}, "y": {"field": "hi", "type": "quantitative", "axis": null}}},
        {"transform": [{"filter": "datum.t === '-GH'"}],
         "mark": {"type": "text", "dy": -3, "baseline": "alphabetic", "fontSize": 13, "color": "#2b2b2b"},
         "encoding": {"x": {"field": "t", "type": "nominal", "axis": null}, "y": {"datum": 0, "type": "quantitative", "axis": null}, "text": {"field": "n", "type": "nominal"}}},
        {"transform": [{"filter": "datum.t === '+GH'"}],
         "mark": {"type": "text", "dy": -3, "baseline": "alphabetic", "fontSize": 13, "fontWeight": "bold", "color": "#ffffff"},
         "encoding": {"x": {"field": "t", "type": "nominal", "axis": null}, "y": {"datum": 0, "type": "quantitative", "axis": null}, "text": {"field": "n", "type": "nominal"}}},
        {"data": {"name": "trb"}, "transform": [{"filter": "datum.p === 'D'"}],
         "mark": {"type": "rule", "color": "#404040", "strokeWidth": 1.3},
         "encoding": {"x": {"field": "a", "type": "nominal", "axis": null}, "x2": {"field": "b"}, "y": {"field": "y", "type": "quantitative", "axis": null}}},
        {"data": {"name": "trb"}, "transform": [{"filter": "datum.p === 'D'"}, {"fold": ["a", "b"], "as": ["end", "xv"]}],
         "mark": {"type": "rule", "color": "#404040", "strokeWidth": 1.3, "y2Offset": 5},
         "encoding": {"x": {"field": "xv", "type": "nominal", "axis": null}, "y": {"field": "y", "type": "quantitative", "axis": null}, "y2": {"field": "y"}}},
        {"data": {"name": "trb"}, "transform": [{"filter": "datum.p === 'D'"}],
         "mark": {"type": "text", "dy": 5, "baseline": "alphabetic", "fontSize": 15, "fontWeight": "bold", "color": "#333"},
         "encoding": {"x": {"field": "a", "type": "nominal", "bandPosition": 1, "axis": null}, "y": {"field": "y", "type": "quantitative", "axis": null}, "text": {"field": "s"}}}
      ]
    }
  ],
  "config": {
    "font": "Liberation Sans",
    "view": {"stroke": null},
    "axis": {"grid": false, "labelFont": "Liberation Sans", "labelFontWeight": "bold", "labelFontSize": 9, "labelColor": "#000", "domainColor": "#333", "tickColor": "#333", "titleColor": "#000", "titleFont": "Liberation Sans"},
    "legend": {"labelFont": "Liberation Sans"},
    "title": {"font": "Liberation Sans"},
    "text": {"font": "Liberation Sans"}
  }
}
